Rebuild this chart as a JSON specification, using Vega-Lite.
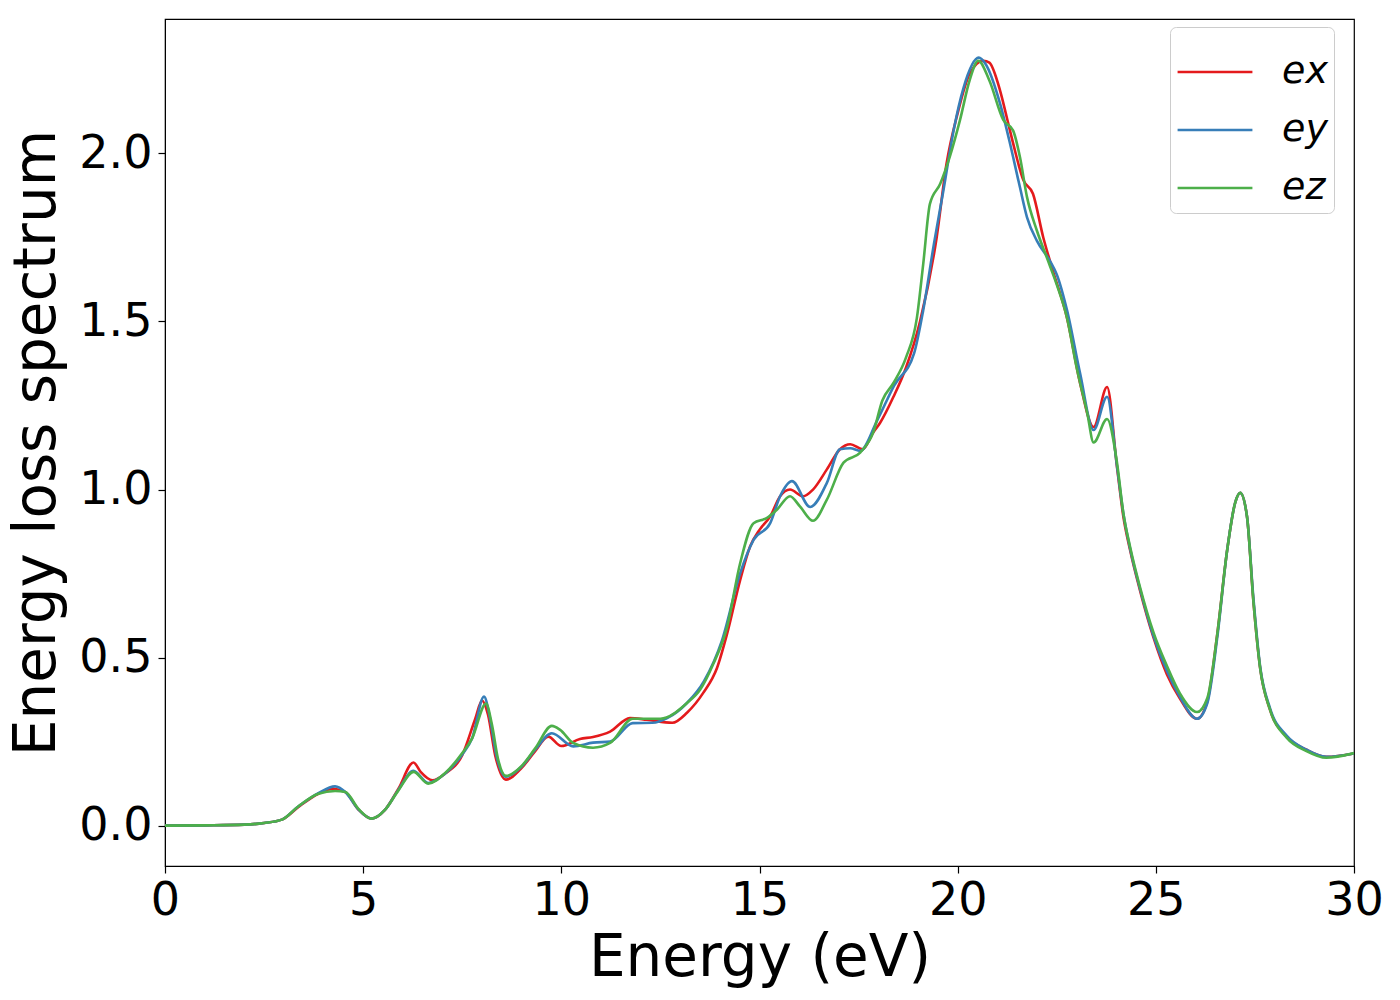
{
  "$schema": "https://vega.github.io/schema/vega-lite/v6.json",
  "width": 1189,
  "height": 847,
  "autosize": "none",
  "padding": {"left": 165, "top": 19, "right": 46, "bottom": 134},
  "config": {
    "font": "DejaVu Sans",
    "view": {"stroke": "#000000", "strokeWidth": 1.2},
    "axis": {
      "grid": false,
      "domainColor": "#000000",
      "tickColor": "#000000",
      "tickSize": 7,
      "tickWidth": 1.2,
      "labelColor": "#000000",
      "labelFontSize": 46,
      "titleColor": "#000000",
      "titleFontSize": 58,
      "titleFontWeight": "normal"
    }
  },
  "data": {
    "values": [
      {"energy": 0, "loss": 0, "dir": "ex"},
      {"energy": 1, "loss": 0.001, "dir": "ex"},
      {"energy": 2, "loss": 0.003, "dir": "ex"},
      {"energy": 2.5, "loss": 0.008, "dir": "ex"},
      {"energy": 2.95, "loss": 0.018, "dir": "ex"},
      {"energy": 3.36, "loss": 0.055, "dir": "ex"},
      {"energy": 3.87, "loss": 0.095, "dir": "ex"},
      {"energy": 4.25, "loss": 0.11, "dir": "ex"},
      {"energy": 4.55, "loss": 0.1, "dir": "ex"},
      {"energy": 4.88, "loss": 0.048, "dir": "ex"},
      {"energy": 5.21, "loss": 0.021, "dir": "ex"},
      {"energy": 5.55, "loss": 0.047, "dir": "ex"},
      {"energy": 5.89, "loss": 0.11, "dir": "ex"},
      {"energy": 6.27, "loss": 0.188, "dir": "ex"},
      {"energy": 6.45, "loss": 0.16, "dir": "ex"},
      {"energy": 6.75, "loss": 0.135, "dir": "ex"},
      {"energy": 7.07, "loss": 0.155, "dir": "ex"},
      {"energy": 7.5, "loss": 0.21, "dir": "ex"},
      {"energy": 7.82, "loss": 0.315, "dir": "ex"},
      {"energy": 8.0, "loss": 0.372, "dir": "ex"},
      {"energy": 8.15, "loss": 0.33, "dir": "ex"},
      {"energy": 8.33, "loss": 0.21, "dir": "ex"},
      {"energy": 8.6, "loss": 0.137, "dir": "ex"},
      {"energy": 9.0, "loss": 0.172, "dir": "ex"},
      {"energy": 9.34, "loss": 0.222, "dir": "ex"},
      {"energy": 9.67, "loss": 0.265, "dir": "ex"},
      {"energy": 10.0, "loss": 0.237, "dir": "ex"},
      {"energy": 10.47, "loss": 0.258, "dir": "ex"},
      {"energy": 10.8, "loss": 0.264, "dir": "ex"},
      {"energy": 11.23, "loss": 0.28, "dir": "ex"},
      {"energy": 11.73, "loss": 0.32, "dir": "ex"},
      {"energy": 12.16, "loss": 0.315, "dir": "ex"},
      {"energy": 12.8, "loss": 0.306, "dir": "ex"},
      {"energy": 13.17, "loss": 0.336, "dir": "ex"},
      {"energy": 13.58, "loss": 0.395, "dir": "ex"},
      {"energy": 13.93, "loss": 0.47, "dir": "ex"},
      {"energy": 14.18, "loss": 0.57, "dir": "ex"},
      {"energy": 14.51, "loss": 0.73, "dir": "ex"},
      {"energy": 14.76, "loss": 0.83, "dir": "ex"},
      {"energy": 15.0, "loss": 0.88, "dir": "ex"},
      {"energy": 15.27, "loss": 0.92, "dir": "ex"},
      {"energy": 15.52, "loss": 0.98, "dir": "ex"},
      {"energy": 15.77, "loss": 1.0, "dir": "ex"},
      {"energy": 16.1, "loss": 0.98, "dir": "ex"},
      {"energy": 16.35, "loss": 1.0, "dir": "ex"},
      {"energy": 16.7, "loss": 1.06, "dir": "ex"},
      {"energy": 17.03, "loss": 1.12, "dir": "ex"},
      {"energy": 17.29, "loss": 1.135, "dir": "ex"},
      {"energy": 17.6, "loss": 1.12, "dir": "ex"},
      {"energy": 17.87, "loss": 1.17, "dir": "ex"},
      {"energy": 18.04, "loss": 1.198, "dir": "ex"},
      {"energy": 18.38, "loss": 1.276, "dir": "ex"},
      {"energy": 18.7, "loss": 1.364, "dir": "ex"},
      {"energy": 19.05, "loss": 1.5, "dir": "ex"},
      {"energy": 19.47, "loss": 1.75, "dir": "ex"},
      {"energy": 19.72, "loss": 1.97, "dir": "ex"},
      {"energy": 20.0, "loss": 2.12, "dir": "ex"},
      {"energy": 20.3, "loss": 2.237, "dir": "ex"},
      {"energy": 20.65, "loss": 2.276, "dir": "ex"},
      {"energy": 20.8, "loss": 2.27, "dir": "ex"},
      {"energy": 21.07, "loss": 2.187, "dir": "ex"},
      {"energy": 21.24, "loss": 2.107, "dir": "ex"},
      {"energy": 21.4, "loss": 2.03, "dir": "ex"},
      {"energy": 21.66, "loss": 1.92, "dir": "ex"},
      {"energy": 21.9, "loss": 1.88, "dir": "ex"},
      {"energy": 22.16, "loss": 1.75, "dir": "ex"},
      {"energy": 22.4, "loss": 1.652, "dir": "ex"},
      {"energy": 22.76, "loss": 1.51, "dir": "ex"},
      {"energy": 23.09, "loss": 1.316, "dir": "ex"},
      {"energy": 23.43, "loss": 1.186, "dir": "ex"},
      {"energy": 23.77, "loss": 1.305, "dir": "ex"},
      {"energy": 24.02, "loss": 1.067, "dir": "ex"},
      {"energy": 24.18, "loss": 0.92, "dir": "ex"},
      {"energy": 24.35, "loss": 0.82, "dir": "ex"},
      {"energy": 24.6, "loss": 0.7, "dir": "ex"},
      {"energy": 24.94, "loss": 0.56, "dir": "ex"},
      {"energy": 25.28, "loss": 0.45, "dir": "ex"},
      {"energy": 25.6, "loss": 0.38, "dir": "ex"},
      {"energy": 26.04, "loss": 0.318, "dir": "ex"},
      {"energy": 26.3, "loss": 0.37, "dir": "ex"},
      {"energy": 26.55, "loss": 0.57, "dir": "ex"},
      {"energy": 26.8, "loss": 0.82, "dir": "ex"},
      {"energy": 27.0, "loss": 0.96, "dir": "ex"},
      {"energy": 27.13, "loss": 0.99, "dir": "ex"},
      {"energy": 27.3, "loss": 0.92, "dir": "ex"},
      {"energy": 27.46, "loss": 0.67, "dir": "ex"},
      {"energy": 27.63, "loss": 0.47, "dir": "ex"},
      {"energy": 27.88, "loss": 0.345, "dir": "ex"},
      {"energy": 28.3, "loss": 0.265, "dir": "ex"},
      {"energy": 28.8, "loss": 0.226, "dir": "ex"},
      {"energy": 29.3, "loss": 0.205, "dir": "ex"},
      {"energy": 30, "loss": 0.215, "dir": "ex"},

      {"energy": 0, "loss": 0, "dir": "ey"},
      {"energy": 1, "loss": 0.001, "dir": "ey"},
      {"energy": 2, "loss": 0.003, "dir": "ey"},
      {"energy": 2.5, "loss": 0.008, "dir": "ey"},
      {"energy": 2.95, "loss": 0.018, "dir": "ey"},
      {"energy": 3.36, "loss": 0.057, "dir": "ey"},
      {"energy": 3.87, "loss": 0.097, "dir": "ey"},
      {"energy": 4.29, "loss": 0.117, "dir": "ey"},
      {"energy": 4.55, "loss": 0.1, "dir": "ey"},
      {"energy": 4.88, "loss": 0.048, "dir": "ey"},
      {"energy": 5.21, "loss": 0.021, "dir": "ey"},
      {"energy": 5.55, "loss": 0.047, "dir": "ey"},
      {"energy": 5.89, "loss": 0.107, "dir": "ey"},
      {"energy": 6.27, "loss": 0.163, "dir": "ey"},
      {"energy": 6.64, "loss": 0.127, "dir": "ey"},
      {"energy": 7.07, "loss": 0.155, "dir": "ey"},
      {"energy": 7.5, "loss": 0.212, "dir": "ey"},
      {"energy": 7.75, "loss": 0.26, "dir": "ey"},
      {"energy": 8.05, "loss": 0.384, "dir": "ey"},
      {"energy": 8.2, "loss": 0.32, "dir": "ey"},
      {"energy": 8.35, "loss": 0.215, "dir": "ey"},
      {"energy": 8.6, "loss": 0.146, "dir": "ey"},
      {"energy": 9.0, "loss": 0.176, "dir": "ey"},
      {"energy": 9.34, "loss": 0.226, "dir": "ey"},
      {"energy": 9.76, "loss": 0.275, "dir": "ey"},
      {"energy": 10.3, "loss": 0.236, "dir": "ey"},
      {"energy": 10.8, "loss": 0.247, "dir": "ey"},
      {"energy": 11.23, "loss": 0.25, "dir": "ey"},
      {"energy": 11.8, "loss": 0.305, "dir": "ey"},
      {"energy": 12.3, "loss": 0.306, "dir": "ey"},
      {"energy": 12.67, "loss": 0.32, "dir": "ey"},
      {"energy": 13.17, "loss": 0.365, "dir": "ey"},
      {"energy": 13.6, "loss": 0.43, "dir": "ey"},
      {"energy": 14.05, "loss": 0.55, "dir": "ey"},
      {"energy": 14.51, "loss": 0.75, "dir": "ey"},
      {"energy": 14.85, "loss": 0.85, "dir": "ey"},
      {"energy": 15.27, "loss": 0.9, "dir": "ey"},
      {"energy": 15.52, "loss": 0.98, "dir": "ey"},
      {"energy": 15.82, "loss": 1.025, "dir": "ey"},
      {"energy": 16.28, "loss": 0.948, "dir": "ey"},
      {"energy": 16.7, "loss": 1.02, "dir": "ey"},
      {"energy": 17.03, "loss": 1.12, "dir": "ey"},
      {"energy": 17.29, "loss": 1.123, "dir": "ey"},
      {"energy": 17.54, "loss": 1.115, "dir": "ey"},
      {"energy": 17.97, "loss": 1.206, "dir": "ey"},
      {"energy": 18.4, "loss": 1.31, "dir": "ey"},
      {"energy": 18.9, "loss": 1.405, "dir": "ey"},
      {"energy": 19.13, "loss": 1.533, "dir": "ey"},
      {"energy": 19.4, "loss": 1.73, "dir": "ey"},
      {"energy": 19.64, "loss": 1.89, "dir": "ey"},
      {"energy": 19.9, "loss": 2.07, "dir": "ey"},
      {"energy": 20.15, "loss": 2.196, "dir": "ey"},
      {"energy": 20.53, "loss": 2.285, "dir": "ey"},
      {"energy": 20.7, "loss": 2.267, "dir": "ey"},
      {"energy": 21.07, "loss": 2.148, "dir": "ey"},
      {"energy": 21.3, "loss": 2.04, "dir": "ey"},
      {"energy": 21.57, "loss": 1.9, "dir": "ey"},
      {"energy": 21.75, "loss": 1.81, "dir": "ey"},
      {"energy": 22.0, "loss": 1.74, "dir": "ey"},
      {"energy": 22.33, "loss": 1.68, "dir": "ey"},
      {"energy": 22.5, "loss": 1.64, "dir": "ey"},
      {"energy": 22.76, "loss": 1.533, "dir": "ey"},
      {"energy": 23.09, "loss": 1.345, "dir": "ey"},
      {"energy": 23.43, "loss": 1.177, "dir": "ey"},
      {"energy": 23.77, "loss": 1.276, "dir": "ey"},
      {"energy": 24.02, "loss": 1.07, "dir": "ey"},
      {"energy": 24.18, "loss": 0.93, "dir": "ey"},
      {"energy": 24.35, "loss": 0.825, "dir": "ey"},
      {"energy": 24.6, "loss": 0.705, "dir": "ey"},
      {"energy": 24.94, "loss": 0.565, "dir": "ey"},
      {"energy": 25.28, "loss": 0.46, "dir": "ey"},
      {"energy": 25.6, "loss": 0.385, "dir": "ey"},
      {"energy": 26.04, "loss": 0.318, "dir": "ey"},
      {"energy": 26.3, "loss": 0.365, "dir": "ey"},
      {"energy": 26.55, "loss": 0.56, "dir": "ey"},
      {"energy": 26.8, "loss": 0.82, "dir": "ey"},
      {"energy": 27.0, "loss": 0.96, "dir": "ey"},
      {"energy": 27.13, "loss": 0.99, "dir": "ey"},
      {"energy": 27.3, "loss": 0.92, "dir": "ey"},
      {"energy": 27.46, "loss": 0.68, "dir": "ey"},
      {"energy": 27.63, "loss": 0.475, "dir": "ey"},
      {"energy": 27.88, "loss": 0.35, "dir": "ey"},
      {"energy": 28.3, "loss": 0.268, "dir": "ey"},
      {"energy": 28.8, "loss": 0.226, "dir": "ey"},
      {"energy": 29.3, "loss": 0.205, "dir": "ey"},
      {"energy": 30, "loss": 0.215, "dir": "ey"},

      {"energy": 0, "loss": 0, "dir": "ez"},
      {"energy": 1, "loss": 0.001, "dir": "ez"},
      {"energy": 2, "loss": 0.003, "dir": "ez"},
      {"energy": 2.5, "loss": 0.008, "dir": "ez"},
      {"energy": 2.95, "loss": 0.018, "dir": "ez"},
      {"energy": 3.36, "loss": 0.057, "dir": "ez"},
      {"energy": 3.87, "loss": 0.095, "dir": "ez"},
      {"energy": 4.29, "loss": 0.103, "dir": "ez"},
      {"energy": 4.55, "loss": 0.1, "dir": "ez"},
      {"energy": 4.88, "loss": 0.05, "dir": "ez"},
      {"energy": 5.21, "loss": 0.021, "dir": "ez"},
      {"energy": 5.55, "loss": 0.047, "dir": "ez"},
      {"energy": 5.89, "loss": 0.105, "dir": "ez"},
      {"energy": 6.27, "loss": 0.16, "dir": "ez"},
      {"energy": 6.64, "loss": 0.125, "dir": "ez"},
      {"energy": 7.07, "loss": 0.157, "dir": "ez"},
      {"energy": 7.5, "loss": 0.216, "dir": "ez"},
      {"energy": 7.75, "loss": 0.26, "dir": "ez"},
      {"energy": 8.1, "loss": 0.363, "dir": "ez"},
      {"energy": 8.25, "loss": 0.3, "dir": "ez"},
      {"energy": 8.4, "loss": 0.2, "dir": "ez"},
      {"energy": 8.6, "loss": 0.148, "dir": "ez"},
      {"energy": 9.0, "loss": 0.178, "dir": "ez"},
      {"energy": 9.34, "loss": 0.23, "dir": "ez"},
      {"energy": 9.76, "loss": 0.297, "dir": "ez"},
      {"energy": 9.97, "loss": 0.285, "dir": "ez"},
      {"energy": 10.3, "loss": 0.246, "dir": "ez"},
      {"energy": 10.8, "loss": 0.232, "dir": "ez"},
      {"energy": 11.23, "loss": 0.246, "dir": "ez"},
      {"energy": 11.8, "loss": 0.318, "dir": "ez"},
      {"energy": 12.5, "loss": 0.318, "dir": "ez"},
      {"energy": 13.17, "loss": 0.365, "dir": "ez"},
      {"energy": 13.5, "loss": 0.404, "dir": "ez"},
      {"energy": 13.83, "loss": 0.48, "dir": "ez"},
      {"energy": 14.18, "loss": 0.59, "dir": "ez"},
      {"energy": 14.51, "loss": 0.78, "dir": "ez"},
      {"energy": 14.85, "loss": 0.9, "dir": "ez"},
      {"energy": 15.18, "loss": 0.915, "dir": "ez"},
      {"energy": 15.44, "loss": 0.94, "dir": "ez"},
      {"energy": 15.77, "loss": 0.98, "dir": "ez"},
      {"energy": 16.02, "loss": 0.95, "dir": "ez"},
      {"energy": 16.35, "loss": 0.907, "dir": "ez"},
      {"energy": 16.7, "loss": 0.97, "dir": "ez"},
      {"energy": 17.12, "loss": 1.08, "dir": "ez"},
      {"energy": 17.54, "loss": 1.11, "dir": "ez"},
      {"energy": 17.87, "loss": 1.17, "dir": "ez"},
      {"energy": 18.1, "loss": 1.265, "dir": "ez"},
      {"energy": 18.38, "loss": 1.317, "dir": "ez"},
      {"energy": 18.7, "loss": 1.394, "dir": "ez"},
      {"energy": 18.97, "loss": 1.51, "dir": "ez"},
      {"energy": 19.13, "loss": 1.67, "dir": "ez"},
      {"energy": 19.3, "loss": 1.85, "dir": "ez"},
      {"energy": 19.56, "loss": 1.91, "dir": "ez"},
      {"energy": 19.8, "loss": 1.99, "dir": "ez"},
      {"energy": 20.06, "loss": 2.1, "dir": "ez"},
      {"energy": 20.3, "loss": 2.217, "dir": "ez"},
      {"energy": 20.52, "loss": 2.276, "dir": "ez"},
      {"energy": 20.8, "loss": 2.217, "dir": "ez"},
      {"energy": 21.15, "loss": 2.1, "dir": "ez"},
      {"energy": 21.4, "loss": 2.068, "dir": "ez"},
      {"energy": 21.57, "loss": 1.99, "dir": "ez"},
      {"energy": 21.75, "loss": 1.87, "dir": "ez"},
      {"energy": 22.0, "loss": 1.77, "dir": "ez"},
      {"energy": 22.25, "loss": 1.69, "dir": "ez"},
      {"energy": 22.5, "loss": 1.61, "dir": "ez"},
      {"energy": 22.76, "loss": 1.51, "dir": "ez"},
      {"energy": 23.0, "loss": 1.364, "dir": "ez"},
      {"energy": 23.27, "loss": 1.227, "dir": "ez"},
      {"energy": 23.43, "loss": 1.14, "dir": "ez"},
      {"energy": 23.77, "loss": 1.21, "dir": "ez"},
      {"energy": 24.02, "loss": 1.08, "dir": "ez"},
      {"energy": 24.18, "loss": 0.93, "dir": "ez"},
      {"energy": 24.35, "loss": 0.83, "dir": "ez"},
      {"energy": 24.6, "loss": 0.71, "dir": "ez"},
      {"energy": 24.94, "loss": 0.575, "dir": "ez"},
      {"energy": 25.28, "loss": 0.475, "dir": "ez"},
      {"energy": 25.6, "loss": 0.395, "dir": "ez"},
      {"energy": 26.04, "loss": 0.338, "dir": "ez"},
      {"energy": 26.3, "loss": 0.38, "dir": "ez"},
      {"energy": 26.55, "loss": 0.57, "dir": "ez"},
      {"energy": 26.8, "loss": 0.82, "dir": "ez"},
      {"energy": 27.0, "loss": 0.96, "dir": "ez"},
      {"energy": 27.13, "loss": 0.99, "dir": "ez"},
      {"energy": 27.3, "loss": 0.92, "dir": "ez"},
      {"energy": 27.46, "loss": 0.67, "dir": "ez"},
      {"energy": 27.63, "loss": 0.47, "dir": "ez"},
      {"energy": 27.88, "loss": 0.345, "dir": "ez"},
      {"energy": 28.3, "loss": 0.262, "dir": "ez"},
      {"energy": 28.8, "loss": 0.222, "dir": "ez"},
      {"energy": 29.3, "loss": 0.202, "dir": "ez"},
      {"energy": 30, "loss": 0.216, "dir": "ez"}
    ]
  },
  "mark": {"type": "line", "interpolate": "monotone", "strokeWidth": 2.6, "clip": true},
  "encoding": {
    "x": {
      "field": "energy",
      "type": "quantitative",
      "scale": {"domain": [0, 30], "nice": false, "zero": false},
      "axis": {"title": "Energy (eV)", "values": [0, 5, 10, 15, 20, 25, 30], "labelPadding": 5, "titlePadding": 6, "labelFlush": false}
    },
    "y": {
      "field": "loss",
      "type": "quantitative",
      "scale": {"domain": [-0.12, 2.4], "nice": false, "zero": false},
      "axis": {"title": "Energy loss spectrum", "values": [0, 0.5, 1.0, 1.5, 2.0], "format": ".1f", "labelPadding": 6, "titlePadding": 12}
    },
    "color": {
      "field": "dir",
      "type": "nominal",
      "scale": {"domain": ["ex", "ey", "ez"], "range": ["#e41a1c", "#377eb8", "#4daf4a"]},
      "legend": {
        "title": null,
        "orient": "none",
        "legendX": 1005,
        "legendY": 8,
        "symbolType": "stroke",
        "symbolSize": 5600,
        "symbolStrokeWidth": 2.6,
        "labelFontSize": 38,
        "labelFontStyle": "italic",
        "labelColor": "#000000",
        "labelOffset": 28,
        "rowPadding": -3,
        "padding": 6,
        "strokeColor": "#cccccc",
        "cornerRadius": 6,
        "fillColor": "#ffffff"
      }
    }
  }
}
